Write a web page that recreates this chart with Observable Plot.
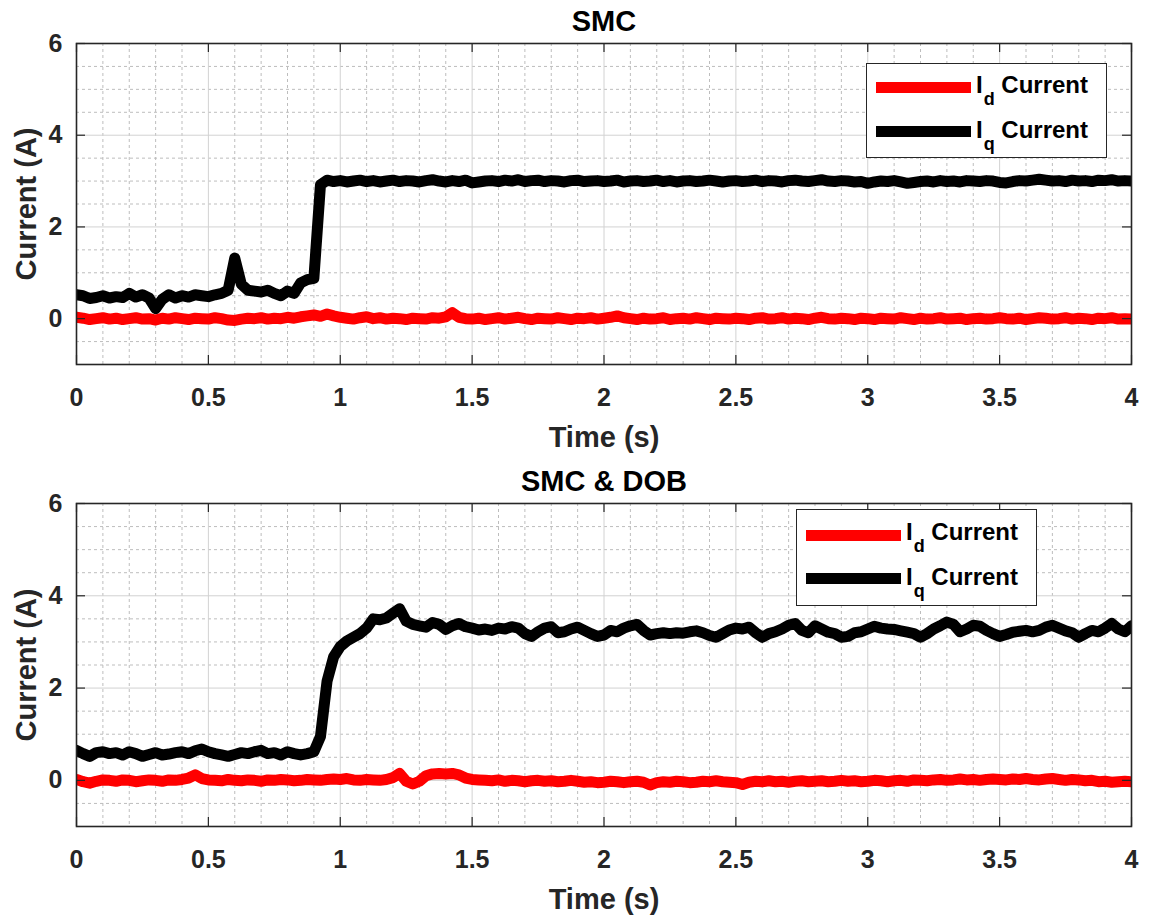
<!DOCTYPE html>
<html><head><meta charset="utf-8">
<script src="https://cdn.jsdelivr.net/npm/d3@7"></script>
<script src="https://cdn.jsdelivr.net/npm/@observablehq/plot@0.6"></script>
<style>
html,body{margin:0;padding:0;background:#fff;overflow:hidden}
#wrap{position:relative;width:1153px;height:917px;font-family:Arial,"Liberation Sans",Helvetica,sans-serif}
#wrap svg{display:block}
.legend{position:absolute;width:241px;background:#fff;border:1.5px solid #262626;box-sizing:border-box}
.sw{position:absolute;left:9px;width:95px;height:11px}
.lbl{position:absolute;left:109px;font-size:24px;font-weight:bold;line-height:24px;white-space:nowrap;color:#000}
.lbl sub{font-size:18px;vertical-align:-12px;line-height:0;margin-left:1px}
</style></head>
<body>
<div id="wrap"></div>
<script>
// sample spacing of the recorded signals (s)
const dt = 0.025;
// x ticks (s), y ticks (A)
const xTicks = [0, 0.5, 1, 1.5, 2, 2.5, 3, 3.5, 4];
const yTicks = [0, 2, 4, 6];
const seriesNames = ["I_d Current", "I_q Current"];
const titles = ["SMC", "SMC & DOB"];

// ---- SMC panel ----
const smcIq = [
 0.52,0.50,0.44,0.46,0.50,0.45,0.48,0.46,0.55,0.47,0.52,0.45,0.22,0.42,0.52,0.45,0.50,0.47,0.52,0.50,
 0.48,0.52,0.55,0.62,1.32,0.75,0.62,0.60,0.58,0.62,0.55,0.50,0.60,0.55,0.78,0.85,0.88,2.92,3.02,2.99,
 3.01,2.98,3.00,3.02,2.99,3.01,2.98,3.00,3.02,2.99,3.01,3.00,2.98,3.01,3.03,3.00,2.98,3.01,2.99,3.02,
 2.96,2.98,3.00,3.01,2.99,3.02,3.00,3.03,2.99,3.01,3.02,2.99,3.01,3.00,2.98,3.01,3.02,2.99,3.00,3.01,
 2.99,3.00,3.02,2.98,3.00,3.01,2.99,3.00,3.02,2.99,3.01,2.98,3.00,3.01,2.99,3.00,3.02,3.00,2.98,3.00,
 3.01,2.99,3.00,3.02,2.99,3.01,3.00,2.98,3.01,3.02,3.00,2.99,3.01,3.03,3.00,2.99,3.01,3.00,2.98,2.99,
 2.95,2.98,3.00,2.99,3.01,2.98,2.95,2.97,2.99,3.00,2.98,3.01,2.99,3.00,2.98,3.01,3.00,2.99,3.01,3.00,
 2.97,2.96,2.99,3.01,3.00,3.02,3.04,3.02,3.00,3.01,2.99,3.02,3.00,3.01,2.99,3.02,3.01,3.03,3.00,3.01,
 3.00];
const smcId = [
 0.03,0.01,-0.02,0.00,0.02,-0.01,0.01,-0.02,0.00,0.02,-0.01,0.00,-0.03,0.01,-0.01,0.02,0.00,-0.02,0.01,0.00,
 -0.01,0.02,0.00,-0.03,-0.04,-0.01,0.01,0.00,0.02,-0.01,0.01,0.00,0.03,0.01,0.04,0.06,0.08,0.05,0.10,0.06,
 0.03,0.01,-0.01,0.02,0.04,0.00,0.02,-0.01,0.01,0.00,-0.02,0.01,0.00,-0.01,0.02,0.01,0.04,0.13,0.03,0.00,
 -0.01,0.01,-0.02,0.00,0.02,-0.01,0.01,0.03,0.00,-0.02,0.01,0.00,-0.01,0.02,0.00,-0.02,0.01,0.00,0.02,-0.01,
 0.01,0.03,0.06,0.02,0.00,-0.02,0.01,-0.01,0.00,0.02,-0.02,0.00,0.01,-0.01,0.02,0.00,-0.02,0.01,0.00,-0.01,
 0.01,0.00,-0.02,0.01,0.02,-0.01,0.00,0.02,-0.01,0.01,0.00,-0.02,0.01,0.03,0.00,-0.01,0.01,0.00,-0.02,0.01,
 0.00,-0.02,0.01,0.00,-0.01,0.02,0.00,-0.02,0.01,-0.01,0.00,0.02,-0.01,0.00,0.01,-0.02,0.00,0.01,-0.01,0.00,
 0.02,0.00,-0.01,0.01,-0.02,0.00,0.02,0.01,-0.01,0.00,0.02,-0.01,0.01,0.00,-0.02,0.01,0.00,0.02,-0.01,0.00,
 -0.01];

// ---- SMC & DOB panel ----
const dobIq = [
 0.65,0.58,0.52,0.60,0.62,0.58,0.60,0.55,0.62,0.58,0.52,0.56,0.60,0.55,0.57,0.60,0.62,0.58,0.64,0.68,
 0.62,0.58,0.55,0.52,0.56,0.60,0.58,0.62,0.65,0.58,0.60,0.55,0.62,0.58,0.55,0.58,0.62,0.95,2.15,2.68,
 2.90,3.02,3.10,3.18,3.30,3.50,3.48,3.52,3.62,3.72,3.45,3.38,3.35,3.32,3.42,3.38,3.27,3.35,3.40,3.33,
 3.30,3.26,3.28,3.25,3.30,3.28,3.33,3.30,3.18,3.12,3.22,3.30,3.33,3.20,3.22,3.28,3.32,3.25,3.18,3.12,
 3.15,3.25,3.22,3.30,3.35,3.38,3.25,3.15,3.18,3.20,3.18,3.20,3.19,3.22,3.24,3.20,3.14,3.10,3.18,3.26,
 3.30,3.28,3.32,3.20,3.10,3.18,3.22,3.28,3.36,3.40,3.25,3.20,3.35,3.28,3.21,3.18,3.10,3.12,3.20,3.22,
 3.28,3.34,3.30,3.28,3.27,3.24,3.21,3.18,3.10,3.18,3.28,3.35,3.43,3.38,3.22,3.28,3.36,3.34,3.25,3.18,
 3.12,3.16,3.21,3.23,3.25,3.22,3.25,3.32,3.36,3.30,3.24,3.20,3.10,3.18,3.25,3.22,3.30,3.40,3.28,3.22,
 3.35];
const dobId = [
 0.02,-0.03,-0.06,-0.02,0.01,0.00,-0.02,0.01,0.00,-0.03,-0.01,0.01,0.00,-0.02,0.01,0.00,0.02,0.05,0.12,0.04,
 0.01,0.00,-0.01,0.02,0.00,-0.01,0.01,0.00,-0.02,0.01,0.00,0.02,0.01,-0.01,0.00,0.02,0.01,0.00,0.02,0.03,
 0.02,0.04,0.01,0.00,0.02,0.01,0.00,0.02,0.06,0.15,-0.02,-0.08,-0.02,0.10,0.14,0.15,0.14,0.15,0.12,0.05,
 0.02,0.01,0.00,-0.01,0.01,-0.02,0.00,-0.01,-0.03,-0.01,0.00,-0.02,-0.01,-0.03,-0.02,0.00,-0.02,-0.04,-0.03,-0.05,
 -0.04,-0.02,-0.03,-0.05,-0.03,-0.02,-0.04,-0.10,-0.05,-0.03,-0.04,-0.02,-0.03,-0.05,-0.04,-0.02,-0.03,-0.01,-0.03,-0.04,
 -0.05,-0.09,-0.04,-0.02,-0.03,-0.01,-0.03,-0.02,-0.04,-0.02,-0.01,-0.03,-0.02,-0.01,-0.03,-0.02,0.00,-0.02,-0.01,-0.03,
 -0.02,0.00,-0.01,-0.03,-0.01,0.00,-0.02,0.01,0.00,-0.01,0.01,0.02,0.00,0.01,0.03,0.01,0.02,0.00,0.02,0.03,
 0.02,0.01,0.03,0.02,0.04,0.02,0.01,0.03,0.04,0.02,0.00,0.02,0.01,-0.01,0.00,-0.03,-0.02,-0.04,-0.03,-0.02,
 -0.03];

const toRows = (vals) => vals.map((v, i) => ({t: i * dt, v}));

const FONT = 'Arial, "Liberation Sans", Helvetica, sans-serif';
const xMinor = d3.range(1, 40).map(i => i / 10).filter(d => Math.abs(d * 2 - Math.round(d * 2)) > 1e-6);
const yMinor = d3.range(-2, 13).map(i => i / 2).filter(d => d % 2 !== 0);

function panel({title, id, iq, height, marginBottom}) {
  const marginTop = 43, marginLeft = 76, marginRight = 22, width = 1153;
  const fh = height - marginTop - marginBottom;
  const fw = width - marginLeft - marginRight;
  const tk = 9;
  const axc = "#262626";
  const txt = {text: d => d, textAnchor: "middle", lineAnchor: "middle", fontSize: 29, fontWeight: "bold"};
  return Plot.plot({
    width, height, marginTop, marginBottom, marginLeft, marginRight,
    x: {domain: [0, 4]},
    y: {domain: [-1, 6]},
    style: {fontFamily: FONT, fontSize: "25px", fontWeight: "bold", color: axc, background: "#fff", overflow: "visible"},
    marks: [
      Plot.gridX(xMinor, {stroke: "#bdbdbd", strokeOpacity: 1, strokeWidth: 1, strokeDasharray: "3,3"}),
      Plot.gridY(yMinor, {stroke: "#bdbdbd", strokeOpacity: 1, strokeWidth: 1, strokeDasharray: "3,3"}),
      Plot.gridX(xTicks, {stroke: "#d2d2d2", strokeOpacity: 1, strokeWidth: 1}),
      Plot.gridY(yTicks, {stroke: "#d2d2d2", strokeOpacity: 1, strokeWidth: 1}),
      Plot.line(toRows(id), {x: "t", y: "v", stroke: "#ff0000", strokeWidth: 11, strokeLinejoin: "round", strokeLinecap: "round", clip: true}),
      Plot.line(toRows(iq), {x: "t", y: "v", stroke: "#000000", strokeWidth: 11, strokeLinejoin: "round", strokeLinecap: "round", clip: true}),
      // inward tick marks on all four sides
      Plot.tickX(xTicks, {x: d => d, insetTop: fh - tk, stroke: axc, strokeWidth: 1.2}),
      Plot.tickX(xTicks, {x: d => d, insetBottom: fh - tk, stroke: axc, strokeWidth: 1.2}),
      Plot.tickY(yTicks, {y: d => d, insetRight: fw - tk, stroke: axc, strokeWidth: 1.2}),
      Plot.tickY(yTicks, {y: d => d, insetLeft: fw - tk, stroke: axc, strokeWidth: 1.2}),
      Plot.frame({stroke: axc, strokeWidth: 1.6}),
      Plot.axisX(xTicks, {tickSize: 0, tickPadding: 24, tickFormat: d => String(d), label: null}),
      Plot.axisY(yTicks, {tickSize: 0, tickPadding: 14, tickFormat: d => String(d), label: null}),
      Plot.text([title], {...txt, frameAnchor: "top", dy: -22, fill: "#000"}),
      Plot.text(["Time (s)"], {...txt, frameAnchor: "bottom", dy: 73, fill: axc}),
      Plot.text(["Current (A)"], {...txt, frameAnchor: "left", dx: -50, rotate: -90, fill: axc})
    ]
  });
}

const wrap = document.getElementById("wrap");
wrap.appendChild(panel({title: titles[0], id: smcId, iq: smcIq, height: 460, marginBottom: 96}));
wrap.appendChild(panel({title: titles[1], id: dobId, iq: dobIq, height: 457, marginBottom: 91}));

function legend(left, top, h, rows) {
  const box = document.createElement("div");
  box.className = "legend";
  box.style.left = left + "px";
  box.style.top = top + "px";
  box.style.height = h + "px";
  const colors = ["#ff0000", "#000000"];
  const subs = ["d", "q"];
  rows.forEach((r, i) => {
    const sw = document.createElement("div");
    sw.className = "sw";
    sw.style.top = r.sw + "px";
    sw.style.background = colors[i];
    box.appendChild(sw);
    const lb = document.createElement("div");
    lb.className = "lbl";
    lb.style.top = r.tx + "px";
    const name = seriesNames[i].split(" ").slice(1).join(" ");
    lb.innerHTML = "I<sub>" + subs[i] + "</sub> " + name;
    box.appendChild(lb);
  });
  wrap.appendChild(box);
}
legend(866, 63, 95, [{sw: 18, tx: 9}, {sw: 62, tx: 54}]);
legend(796, 509, 97, [{sw: 20, tx: 10}, {sw: 63, tx: 55}]);
</script>
</body></html>
